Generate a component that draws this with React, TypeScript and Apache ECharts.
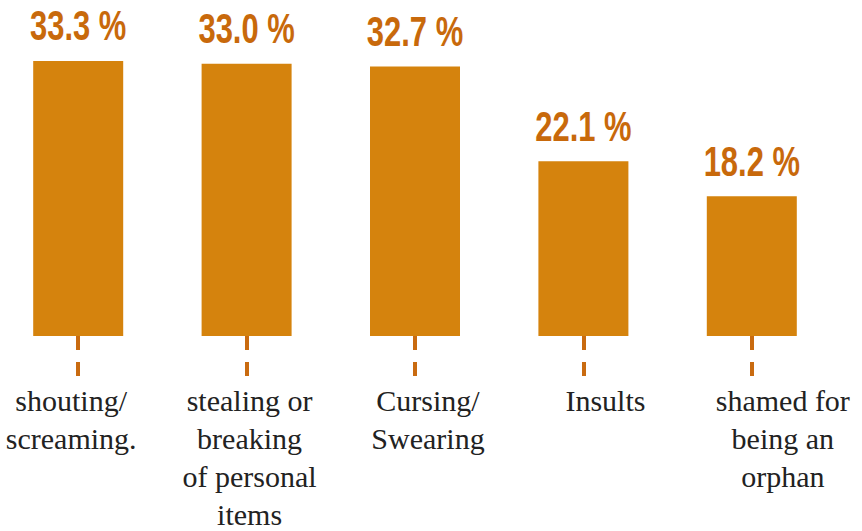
import React, { useEffect, useRef } from "react";
import * as echarts from "echarts";

const categories = [
  "shouting/\nscreaming.",
  "stealing or\nbreaking\nof personal\nitems",
  "Cursing/\nSwearing",
  "Insults",
  "shamed for\nbeing an\norphan",
];
const values = [33.3, 33.0, 32.7, 22.1, 18.2];

// label horizontal shifts (px) relative to the tick, layout only
const labelShift = [-7, 3, 13, 22, 31];

const BAR = "#D5830D";
const LABEL = "#C8690B";
const TICK = "#C96B10";
const SERIF = "Liberation Serif";
const SANS = "Liberation Sans";

export default function App() {
  const ref = useRef<HTMLDivElement>(null);
  useEffect(() => {
    document.body.style.margin = "0";
    if (!ref.current) return;
    const chart = echarts.init(ref.current, null, { renderer: "svg" });
    const rich: Record<string, any> = {};
    labelShift.forEach((sh, i) => {
      const s = sh * 2;
      rich["c" + i] = {
        fontFamily: SERIF,
        fontSize: 30,
        lineHeight: 38,
        color: "#222222",
        padding: s >= 0 ? [0, 0, 0, s] : [0, -s, 0, 0],
      };
    });
    chart.setOption({
      animation: false,
      textStyle: { fontFamily: SERIF },
      grid: {
        left: -6,
        width: 842,
        top: 1,
        height: 335,
        outerBoundsMode: "none",
        containLabel: false,
      },
      xAxis: {
        type: "category",
        data: categories,
        axisLine: { show: false },
        axisTick: {
          show: true,
          alignWithLabel: true,
          length: 41,
          inside: false,
          lineStyle: { color: TICK, width: 4, type: [14, 12] },
        },
        axisLabel: {
          interval: 0,
          margin: 45,
          fontFamily: SERIF,
          fontSize: 30,
          lineHeight: 38,
          color: "#222222",
          align: "center",
          verticalAlign: "top",
          formatter: (v: string, i: number) =>
            v
              .split("\n")
              .map((line) => `{c${i}|${line}}`)
              .join("\n"),
          rich,
        },
      },
      yAxis: {
        type: "value",
        min: 2.6,
        max: 40,
        show: false,
        splitLine: { show: false },
      },
      series: [
        {
          type: "bar",
          data: values,
          barWidth: 90,
          itemStyle: { color: BAR },
        },
        {
          type: "custom",
          data: values.map((v, i) => [i, v]),
          encode: { x: 0, y: 1 },
          renderItem: (params: any, api: any) => {
            const pt = api.coord([api.value(0), api.value(1)]);
            return {
              type: "text",
              x: pt[0],
              y: pt[1] - 14,
              scaleX: 0.72,
              style: {
                text: `${Number(api.value(1)).toFixed(1)} %`,
                x: 0,
                y: 0,
                fill: LABEL,
                fontFamily: SANS,
                fontWeight: "bold",
                fontSize: 43,
                align: "center",
                verticalAlign: "bottom",
              },
            };
          },
        },
      ],
    });
    return () => chart.dispose();
  }, []);
  return <div ref={ref} style={{ width: 862, height: 531 }} />;
}
